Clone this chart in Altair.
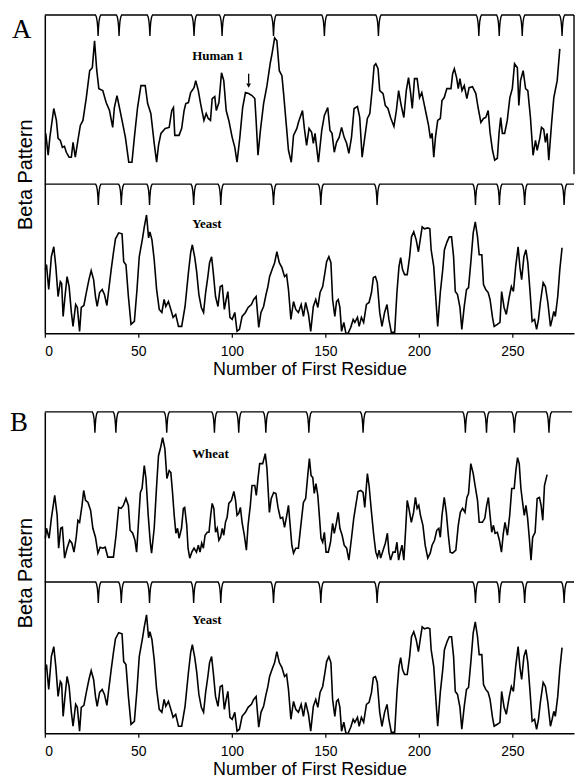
import altair as alt
import pandas as pd

# ---------------- data ----------------
# residue number (x) and beta-pattern height (arbitrary units) for each profile
human_x = [0.5,1.8,2.7,4.8,6.2,7.1,8.3,9.4,10.5,11.5,13.0,14.2,15.1,16.3,17.7,19.0,20.4,22.2,24.0,25.4,26.6,27.8,28.9,31.0,32.8,34.6,36.3,37.2,38.6,39.9,41.3,43.1,44.9,46.6,47.9,49.6,51.4,53.7,55.0,56.7,58.5,59.8,60.8,62.1,64.4,66.5,67.9,68.8,69.5,71.8,73.2,74.5,75.4,76.8,78.0,79.8,80.7,82.1,83.3,85.1,86.3,87.4,88.6,89.5,90.9,91.7,93.1,94.5,95.7,97.0,98.4,100.2,101.6,102.8,104.3,105.8,107.3,109.0,110.8,112.3,113.0,114.0,115.3,117.0,118.8,120.6,121.5,122.9,124.1,125.4,126.8,127.7,129.4,130.3,131.8,133.0,134.8,135.6,137.8,138.8,140.0,141.3,142.7,143.6,144.5,146.3,148.1,149.5,151.3,152.5,153.6,154.8,156.0,157.4,158.7,160.1,161.4,162.6,164.0,165.4,167.2,168.4,169.7,171.1,172.5,173.8,175.0,176.1,177.0,178.2,179.1,180.9,182.1,183.5,184.9,186.7,188.0,189.2,190.6,192.0,193.3,194.5,195.6,196.5,197.7,199.1,200.4,201.6,202.7,203.9,205.2,206.2,207.1,208.0,208.9,210.1,211.5,212.4,213.6,215.0,217.2,218.1,219.0,220.2,221.1,222.0,223.1,224.3,225.7,226.9,228.7,230.5,231.7,233.2,234.6,235.8,237.1,238.1,239.4,240.6,242.0,242.9,243.8,244.7,245.9,247.3,248.7,250.0,251.2,252.7,253.5,254.4,255.8,257.1,258.3,259.7,261.1,262.4,263.3,264.7,265.6,266.8,267.7,268.6,269.5,271.0,272.2,274.0,275.4]
human_y = [51,29,47,76,64,46,44,37,38,32,27,27,42,27,44,59,64,87,114,117,144,114,96,94,82,74,57,77,89,77,64,47,22,22,47,77,99,99,81,71,41,22,39,51,56,57,74,77,49,49,56,74,81,82,92,97,104,94,81,64,71,66,64,86,88,74,82,112,104,74,64,47,37,22,47,77,92,91,89,86,64,29,54,81,99,122,131,147,144,114,109,91,54,34,22,49,56,62,74,56,39,56,52,41,51,22,54,69,77,54,51,32,42,47,57,47,41,31,47,76,78,67,27,47,66,71,94,119,121,116,94,91,79,76,67,58,74,94,79,67,94,107,92,76,106,106,87,92,82,71,59,46,51,27,47,64,66,84,87,96,96,111,116,107,96,106,94,99,86,97,98,91,77,62,66,67,74,52,34,24,26,51,67,51,51,64,87,96,121,117,79,104,114,96,94,67,29,44,34,46,57,55,42,51,24,61,87,104,136]

yeast_x = [0.3,0.9,2.1,3.5,4.8,5.9,7.1,8.3,9.0,9.8,10.8,11.9,13.0,14.2,15.1,16.5,17.4,18.6,19.5,20.9,22.2,23.6,24.8,26.1,27.1,28.0,29.3,30.7,31.9,33.2,34.2,35.5,36.7,37.8,39.5,41.3,42.2,43.4,44.7,46.1,47.9,49.3,50.5,52.3,53.2,54.4,55.5,56.2,57.3,58.5,59.8,61.2,62.6,63.8,64.7,66.1,67.4,68.6,70.0,71.5,73.2,75.0,76.8,78.0,78.9,80.2,81.2,82.4,83.7,84.9,86.0,87.2,88.1,89.2,90.1,91.3,92.6,93.8,94.9,96.0,97.0,97.9,99.0,100.2,101.6,102.8,104.1,105.5,107.3,108.7,110.5,111.7,113.0,114.4,115.6,117.0,118.3,119.3,120.2,121.5,122.9,124.1,125.4,126.8,128.2,129.3,130.3,131.6,133.0,134.2,135.6,137.1,138.3,139.5,141.0,142.2,143.6,144.9,146.0,147.2,148.6,149.8,150.7,151.9,153.0,153.9,155.1,156.0,156.9,157.8,158.7,159.9,161.0,162.2,163.6,164.9,165.8,167.2,168.1,169.3,170.5,172.0,173.4,174.7,175.7,176.8,177.8,179.1,180.3,181.7,183.0,184.0,185.3,187.1,188.3,189.4,190.3,191.3,192.4,193.8,195.1,196.1,197.3,198.6,199.8,200.9,201.8,203.0,204.8,205.9,206.6,208.0,208.9,210.1,211.5,212.8,213.7,215.1,216.3,217.5,218.6,219.5,220.7,222.0,223.0,224.3,225.5,226.6,227.8,229.1,230.2,231.4,232.3,233.7,234.6,235.8,237.1,238.1,239.4,240.3,242.0,243.4,244.3,245.6,246.8,248.3,249.5,250.6,251.8,253.1,254.1,255.0,256.2,257.3,258.3,259.4,260.6,261.9,263.0,264.0,265.0,266.5,267.7,269.0,270.4,271.3,272.2,273.0,274.3,275.4,276.6]
yeast_y = [64,69,44,77,87,67,37,52,50,17,37,57,47,21,7,29,26,2,26,28,41,54,63,54,37,27,41,44,39,28,44,64,81,95,101,100,72,69,37,9,12,44,77,96,107,119,96,102,94,74,44,24,21,34,27,32,24,16,19,7,7,27,61,81,89,76,62,39,26,21,41,57,71,77,61,37,27,47,48,24,34,42,16,14,21,2,4,17,21,26,29,34,37,6,21,27,39,47,57,64,71,82,71,66,57,59,44,14,32,24,21,29,17,31,19,2,27,34,26,41,47,61,72,77,71,34,17,32,34,26,2,11,0,0,6,14,11,16,7,16,11,29,31,41,56,57,51,21,7,21,29,14,1,1,41,67,76,64,59,59,77,97,102,94,82,96,107,105,106,105,84,67,41,7,41,64,84,92,97,97,77,42,39,26,4,27,44,46,71,101,112,97,79,79,49,44,41,34,16,7,9,11,42,26,19,36,47,42,67,87,66,54,77,84,71,44,12,14,4,14,31,51,47,31,7,14,22,17,37,64,86]

wheat_x = [0.3,0.9,2.3,3.5,5.3,6.6,7.4,8.5,9.4,10.6,11.9,13.3,14.5,15.6,16.8,17.7,18.6,19.9,20.8,21.8,23.1,24.5,25.7,27.1,28.4,29.6,31.0,32.3,33.7,35.5,36.7,38.1,39.5,40.8,42.0,43.4,44.7,45.6,47.0,48.2,49.1,50.0,51.1,52.0,53.2,54.1,55.3,56.4,57.1,58.5,59.8,60.8,61.9,63.0,64.2,65.3,66.5,67.4,68.3,69.2,70.1,71.0,71.8,73.1,74.1,74.8,75.9,76.6,77.5,78.6,79.8,81.1,82.1,83.0,83.9,84.8,85.7,86.9,87.8,88.7,89.5,90.4,91.3,92.2,93.1,94.0,94.9,95.7,96.6,97.5,98.4,99.8,101.1,102.0,102.8,103.7,104.6,105.5,106.7,107.8,108.7,109.9,110.8,112.3,113.1,114.0,114.9,116.5,117.9,118.8,120.1,121.1,122.4,123.6,124.7,126.0,127.2,128.2,129.4,130.3,131.2,132.1,133.0,134.2,135.6,137.1,138.3,139.5,140.6,141.5,142.4,143.3,144.1,145.0,146.0,146.8,147.7,148.6,149.5,150.4,151.6,152.8,153.9,154.8,156.0,156.9,157.8,159.0,160.1,161.4,162.6,164.0,165.2,166.3,167.5,168.9,170.2,171.1,172.5,173.4,174.7,175.9,177.0,177.9,178.8,179.6,180.9,182.1,183.2,184.0,184.9,186.2,187.4,188.3,189.2,190.1,191.0,192.0,193.0,193.8,194.7,196.0,197.2,198.2,199.1,200.0,200.9,202.2,203.4,204.8,206.1,207.1,208.4,209.6,210.7,211.5,212.4,213.6,214.7,215.8,216.8,218.1,219.8,221.1,222.2,223.4,224.7,225.7,226.6,227.8,229.1,230.1,231.4,232.3,234.0,235.3,236.3,237.2,238.1,239.0,239.9,240.8,242.0,243.1,244.2,245.2,246.1,247.4,248.6,249.7,251.0,251.9,252.8,253.7,254.6,255.5,256.4,257.3,258.2,259.1,260.0,260.9,262.2,263.3,264.5,265.4,266.3,267.2,268.6]
wheat_y = [44,54,44,64,87,67,34,54,55,24,34,42,39,30,45,62,60,77,92,82,80,72,54,45,29,35,34,35,25,25,25,47,75,74,77,84,77,52,49,42,30,57,90,94,117,104,67,40,29,54,97,127,135,145,134,104,112,110,90,67,49,54,44,54,74,75,57,34,24,30,34,30,37,30,39,34,47,50,50,67,79,74,50,54,42,45,54,47,60,65,79,82,91,82,67,69,75,60,47,32,57,77,97,97,87,104,119,119,129,114,70,84,90,89,75,64,65,55,67,77,57,37,29,34,34,60,80,84,107,124,107,105,89,99,87,67,44,40,50,30,30,40,59,49,60,70,54,47,37,34,22,44,64,77,91,92,90,75,109,97,70,47,30,25,32,24,32,39,49,30,22,30,30,40,22,30,37,22,54,82,74,60,70,85,74,77,67,57,37,24,29,37,42,52,54,45,67,85,70,47,30,29,32,57,70,74,70,85,89,119,109,97,82,60,60,64,77,85,67,50,57,49,50,42,30,49,60,47,67,94,94,112,125,119,94,80,67,77,64,44,22,45,50,84,85,77,62,97,108]

# residue positions of the downward marks on the reference lines
human_marks = [28.5, 39.7, 56.2, 79.8, 94.8, 122.3, 149.5, 178.4, 232.1, 243.0, 255.3, 276.6]
yeast_marks = [28.6, 40.9, 56.0, 79.6, 94.1, 122.3, 147.6, 177.7, 230.3, 243.1, 256.6, 277.7]
wheat_marks = [26.8, 38.0, 65.2, 90.7, 103.7, 118.2, 141.2, 170.2, 224.9, 236.2, 251.1, 269.6]

x_ticks = [0, 50, 100, 150, 200, 250]

# ---------------- layout settings ----------------
X_MAX = 283
W = 532
SANS = "Liberation Sans"
SERIF = "Liberation Serif"
DIP = [(-1.4, 0), (-0.9, 0.1), (-0.5, 0.3), (-0.2, 0.62), (0, 1), (0.2, 0.62), (0.5, 0.3), (0.9, 0.1), (1.4, 0)]
DEPTH = 21


def mark_line(positions, base, x_end, name):
    xs, ys = [0.0], [base]
    for p in positions:
        for dx, f in DIP:
            xs.append(p + dx)
            ys.append(base - DEPTH * f)
    xs.append(x_end)
    ys.append(base)
    return pd.DataFrame({"x": xs, "y": ys, "s": name})


def panel(up_x, up_y, up_marks, up_name, height, sep, letter, letter_y, letter_x,
          up_label_y, low_label_y, top_end, sep_end, border=False, arrow=None):
    traces = pd.concat([
        pd.DataFrame({"x": up_x, "y": [sep + v for v in up_y], "s": "up"}),
        pd.DataFrame({"x": yeast_x, "y": yeast_y, "s": "low"}),
    ])
    marks = pd.concat([
        mark_line(up_marks, height, top_end, "mu"),
        mark_line(yeast_marks, sep, sep_end, "ml"),
    ])
    xs = alt.Scale(domain=[0, X_MAX], nice=False, zero=False)
    ys = alt.Scale(domain=[0, height], nice=False, zero=False)
    x_axis = alt.Axis(values=x_ticks, tickSize=4, labelFontSize=14, labelFont=SANS,
                      titleFont=SANS, titleFontSize=18, titleFontWeight="normal",
                      labelPadding=7, titlePadding=2.5, grid=False,
                      domainColor="black", tickColor="black", labelColor="black",
                      titleColor="black", domainWidth=1.5, tickWidth=1.2)
    y_axis = alt.Axis(labels=False, ticks=False, grid=False, domainColor="black",
                      domainWidth=1.5, titleFont=SANS, titleFontSize=20,
                      titleFontWeight="normal", titleColor="black", titlePadding=9)
    X = alt.X("x:Q", scale=xs, axis=x_axis, title="Number of First Residue")
    Y = alt.Y("y:Q", scale=ys, axis=y_axis, title="Beta Pattern")

    base_line = alt.Chart(traces).mark_line(color="black", strokeWidth=1.6).encode(
        x=X, y=Y, detail="s:N")
    mk = alt.Chart(marks).mark_line(color="black", strokeWidth=1.4).encode(
        x=X, y=Y, detail="s:N")
    labels = pd.DataFrame({"x": [78.8, 78.8], "y": [up_label_y, low_label_y],
                           "t": [up_name, "Yeast"]})
    lab = alt.Chart(labels).mark_text(align="left", baseline="middle", font=SERIF,
                                      fontWeight="bold", fontSize=13, color="black").encode(
        x=X, y=Y, text="t:N")
    let = alt.Chart(pd.DataFrame({"x": [letter_x], "y": [letter_y], "t": [letter]})).mark_text(
        align="left", baseline="alphabetic", font=SERIF, fontSize=27, color="black").encode(
        x=X, y=Y, text="t:N")
    layers = [base_line, mk, lab, let]
    if border:
        bd = alt.Chart(pd.DataFrame({"x": [X_MAX], "y": [sep + 10], "y2": [height]})).mark_rule(
            color="black", strokeWidth=1.4).encode(x=X, y=Y, y2="y2:Q")
        layers.append(bd)
    if arrow is not None:
        ax, ay1, ay2 = arrow
        ar = alt.Chart(pd.DataFrame({"x": [ax], "y": [ay1], "y2": [ay2]})).mark_rule(
            color="black", strokeWidth=1.3).encode(x=X, y=Y, y2="y2:Q")
        hd = alt.Chart(pd.DataFrame({"x": [ax], "y": [ay2 - 2]})).mark_point(
            shape="triangle-down", filled=True, size=22, color="black", opacity=1).encode(
            x=X, y=Y)
        layers += [ar, hd]
    return alt.layer(*layers).properties(width=W, height=height)


panel_a = panel(human_x, human_y, human_marks, "Human 1", 320, 150, "A", 297, -17.5,
                279, 110, X_MAX, X_MAX, border=True, arrow=(109, 261, 251))
panel_b = panel(wheat_x, wheat_y, wheat_marks, "Wheat", 323, 152, "B", 304, -18.6,
                281, 114, 282, 283)

chart = alt.vconcat(panel_a, panel_b, spacing=30).properties(
    padding={"left": 2, "top": 2, "right": 0, "bottom": 0}
).configure_view(stroke=None)

chart.save("out.html", embed_options={"renderer": "svg", "actions": False})
